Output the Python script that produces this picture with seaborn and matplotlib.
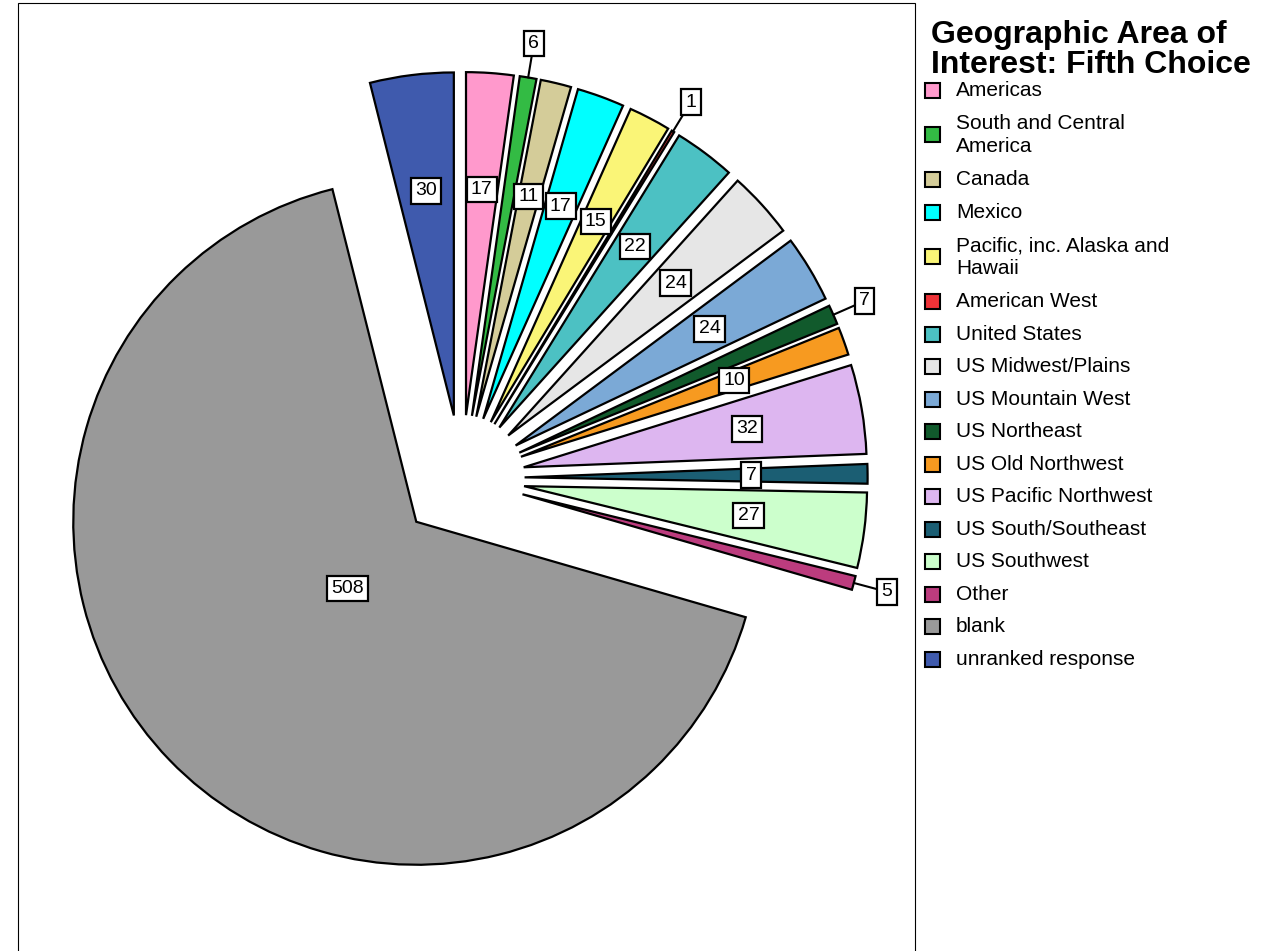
import textwrap
import numpy as np
import matplotlib.pyplot as plt
import seaborn as sns
from matplotlib.patches import Rectangle

categories = ["Americas", "South and Central America", "Canada", "Mexico",
              "Pacific, inc. Alaska and Hawaii", "American West", "United States",
              "US Midwest/Plains", "US Mountain West", "US Northeast", "US Old Northwest",
              "US Pacific Northwest", "US South/Southeast", "US Southwest", "Other",
              "blank", "unranked response"]
counts = [17, 6, 11, 17, 15, 1, 22, 24, 24, 7, 10, 32, 7, 27, 5, 508, 30]
colors = ["#FF99CC", "#33BB44", "#D4CC99", "#00FFFF", "#FAF577", "#EE3338",
          "#4CC1C3", "#E6E6E6", "#7BA9D6", "#115A2C", "#F79A20", "#DDB6F0",
          "#1B5E73", "#CCFFCC", "#BC3C7E", "#999999", "#3F5AAD"]
outside = ["South and Central America", "American West", "US Northeast", "Other"]
title = "Geographic Area of\nInterest: Fifth Choice"

W, H = 1274, 951
sns.set_theme(style="white")
plt.rcParams["font.family"] = ["Liberation Sans", "DejaVu Sans"]
plt.rcParams["text.color"] = "black"

fig = plt.figure(figsize=(W / 100, H / 100), dpi=100)
ax = fig.add_axes([0, 0, 1, 1])

R = 343
wedges, _ = ax.pie(counts, colors=sns.color_palette(colors), startangle=90,
                   counterclock=False, radius=R, center=(461.6, H - 478),
                   explode=[63] * len(counts),
                   wedgeprops=dict(edgecolor="black", linewidth=1.6))
ax.set_xlim(0, W)
ax.set_ylim(0, H)
ax.set_aspect("equal")
ax.axis("off")

# value boxes
box = dict(boxstyle="square,pad=0.22", fc="white", ec="black", lw=1.6)
for w, name, n in zip(wedges, categories, counts):
    ang = np.deg2rad((w.theta1 + w.theta2) / 2)
    d = np.array([np.cos(ang), np.sin(ang)])
    c = np.array(w.center)
    if name in outside:
        edge = c + w.r * d
        pos = c + 1.1 * w.r * d
        ax.plot([edge[0], pos[0]], [edge[1], pos[1]], color="black", lw=1.5, zorder=4)
    elif name == "blank":
        pos = c + 0.28 * w.r * d
    else:
        pos = c + 0.66 * w.r * d
    ax.text(pos[0], pos[1], str(n), ha="center", va="center", fontsize=14,
            bbox=box, zorder=5)

# plot area border
ax.add_patch(Rectangle((18, -10), 897, H - 3 + 10, fill=False, ec="black", lw=0.8))

# legend
ax.text(931, H - 20, title, ha="left", va="top", fontsize=23, fontweight="bold",
        linespacing=1.0)
y = 90
prev_lines = 1
for i, (name, col) in enumerate(zip(categories, colors)):
    label = textwrap.fill(name, 24)
    lines = label.count("\n") + 1
    if i:
        y += 32.5 + 12.3 * ((prev_lines - 1) + (lines - 1))
    ax.add_patch(Rectangle((925, H - y - 7.5), 15, 15, fc=col, ec="black", lw=1.5))
    ax.text(956, H - y, label, ha="left", va="center", fontsize=15, linespacing=1.25)
    prev_lines = lines

fig.savefig("out.png", dpi=100)
